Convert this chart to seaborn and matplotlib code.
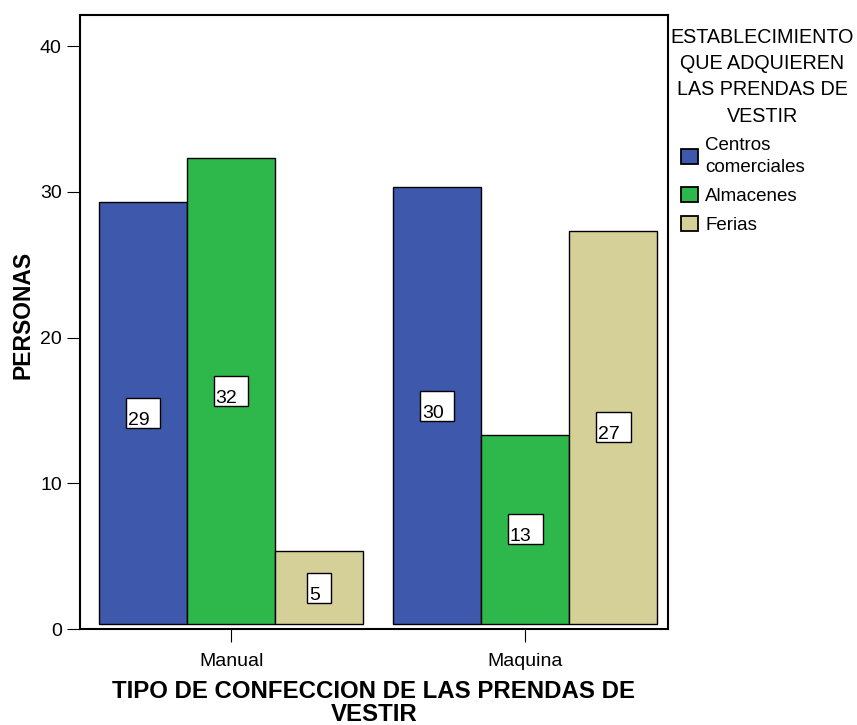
import matplotlib
matplotlib.use("Agg")
import matplotlib.pyplot as plt
import seaborn as sns
import pandas as pd
from matplotlib.patches import Patch, Rectangle
from matplotlib.transforms import ScaledTranslation

# Survey counts: clothing manufacturing type vs. where garments are bought
tipos = ["Manual", "Maquina"]
establecimientos = ["Centros\ncomerciales", "Almacenes", "Ferias"]
centros = [29, 30]
almacenes = [32, 13]
ferias = [5, 27]
y_ticks = [0, 10, 20, 30, 40]

colores = ["#3e58ac", "#2eb84b", "#d5d098"]

df = pd.DataFrame({
    "tipo": tipos * 3,
    "establecimiento": [establecimientos[0]] * 2 + [establecimientos[1]] * 2 + [establecimientos[2]] * 2,
    "personas": centros + almacenes + ferias,
})

sns.set_style("white")
plt.rcParams["font.family"] = ["Liberation Sans", "DejaVu Sans"]
plt.rcParams.update({"text.color": "black", "axes.labelcolor": "black",
                     "xtick.color": "black", "ytick.color": "black"})

DPI = 100
fig = plt.figure(figsize=(8.57, 7.25), dpi=DPI)
ax = fig.add_axes([0.0933, 0.1324, 0.6862, 0.8466])

sns.barplot(data=df, x="tipo", y="personas", hue="establecimiento",
            order=tipos, hue_order=establecimientos, palette=colores,
            saturation=1, width=0.898, gap=0, edgecolor="black", linewidth=1.0,
            errorbar=None, legend=False, ax=ax)

ax.set_xlim(-0.514, 1.486)
ax.set_ylim(0, 40.0 * (629 - 15) / (629 - 46))
ax.set_yticks(y_ticks)
ax.set_yticklabels([str(v) for v in y_ticks], fontsize=14)
ax.set_xticks(range(len(tipos)))
ax.set_xticklabels(tipos, fontsize=14)
ax.tick_params(axis="both", direction="out", length=9.5, width=0.8, color="black",
               left=True, bottom=True)
ax.tick_params(axis="y", pad=3.6)
ax.tick_params(axis="x", pad=7.5)

for s in ax.spines.values():
    s.set_visible(True)
    s.set_color("black")
    s.set_linewidth(1.5)

ax.set_ylabel("PERSONAS", fontsize=16.5, fontweight="bold")
ax.yaxis.set_label_coords(-0.078, 0.512)
ax.set_xlabel("TIPO DE CONFECCION DE LAS PRENDAS DE\nVESTIR", fontsize=17.3,
              fontweight="bold", labelpad=7.5, linespacing=1.0)

# bars sit slightly above the baseline; each carries a boxed count at mid-height
lift = 0.34
fig.canvas.draw()
renderer = fig.canvas.get_renderer()
box_h = 30 / DPI
for cont in ax.containers:
    for rect in cont:
        h = rect.get_height()
        rect.set_y(lift)
        cx = rect.get_x() + rect.get_width() / 2
        cy = lift + h / 2
        trans = fig.dpi_scale_trans + ScaledTranslation(cx, cy, ax.transData)
        t = ax.text(0, 0, f"{h:.0f}", transform=trans, ha="left", va="baseline",
                    fontsize=14, zorder=5, clip_on=False)
        tw = t.get_window_extent(renderer).width / DPI
        box_w = tw + 13 / DPI
        t.set_position((-box_w / 2 + 2 / DPI, -box_h / 2 + 3 / DPI))
        ax.add_patch(Rectangle((-box_w / 2, -box_h / 2), box_w, box_h,
                               transform=trans, facecolor="white",
                               edgecolor="black", linewidth=1.0, zorder=4,
                               clip_on=False))

# legend: centered title block, then swatches
fig.text(762.5 / 857, (725 - 28) / 725,
         "ESTABLECIMIENTO\nQUE ADQUIEREN\nLAS PRENDAS DE\nVESTIR",
         ha="center", va="top", multialignment="center", fontsize=14.2,
         linespacing=1.48)

handles = [Patch(facecolor=c, edgecolor="black", linewidth=1.3) for c in colores]
leg = fig.legend(handles, establecimientos, loc="upper left",
                 bbox_to_anchor=(681 / 857, (725 - 137) / 725), frameon=False,
                 fontsize=13.5, handlelength=0.9, handleheight=0.85,
                 handletextpad=0.4, labelspacing=0.58, borderaxespad=0,
                 borderpad=0)
for t in leg.get_texts():
    t.set_linespacing(1.42)

fig.savefig("out.png", dpi=DPI)
